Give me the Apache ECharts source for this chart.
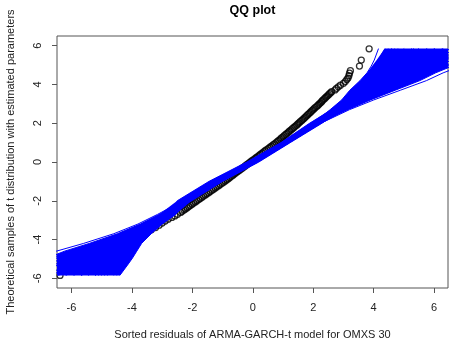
<!DOCTYPE html>
<html>
<head>
<meta charset="utf-8">
<script src="https://cdn.jsdelivr.net/npm/echarts@6/dist/echarts.min.js"></script>
<style>
  html, body { margin: 0; padding: 0; background: #fff; }
  #chart { width: 449px; height: 339px; }
</style>
</head>
<body>
<div id="chart"></div>
<script>
// Axis ticks (same on both axes)
const tickValues = [-6, -4, -2, 0, 2, 4, 6];

// Sorted ARMA-GARCH-t residuals and the matching theoretical t quantiles
const residuals = [
  -6.38, -5.60, -5.10, -4.75, -4.50, -4.25, -4.02, -3.85, -3.68, -3.52,
  -3.36, -3.22, -3.10, -3.00, -2.90, -2.80, -2.68, -2.58, -2.49,
  -2.39, -2.34, -2.28, -2.23, -2.17, -2.12, -2.07, -2.01, -1.96, -1.90,
  -1.85, -1.79, -1.74, -1.68, -1.63, -1.57, -1.52, -1.46, -1.41, -1.35,
  -1.30, -1.24, -1.19, -1.13, -1.08, -1.02, -0.97, -0.91, -0.86, -0.81,
  -0.76, -0.71, -0.66, -0.61, -0.56, -0.51, -0.45, -0.40, -0.35, -0.30,
  -0.25, -0.20, -0.15, -0.10, -0.05, 0.00, 0.06, 0.11, 0.16, 0.21,
  0.26, 0.31, 0.36, 0.41, 0.46, 0.52, 0.57, 0.62, 0.67, 0.72,
  0.77, 0.82, 0.86, 0.91, 0.95, 1.00, 1.04, 1.09, 1.13, 1.18,
  1.22, 1.27, 1.31, 1.36, 1.40, 1.45, 1.49, 1.53, 1.57, 1.62,
  1.66, 1.70, 1.74, 1.78, 1.82, 1.86, 1.90, 1.94, 1.98, 2.02,
  2.06, 2.11, 2.15, 2.19, 2.23, 2.27, 2.30, 2.34, 2.38, 2.42,
  2.46, 2.50, 2.54, 2.58, 2.61,
  2.72, 2.77, 2.83, 2.90, 3.00, 3.06, 3.11, 3.15, 3.18, 3.20,
  3.23, 3.53, 3.59, 3.85
];
const tQuantiles = [
  -5.85, -5.30, -4.95, -4.70, -4.50, -4.30, -4.10, -3.95, -3.80, -3.65,
  -3.50, -3.38, -3.26, -3.15, -3.05, -2.95, -2.86, -2.78, -2.70,
  -2.60, -2.54, -2.48, -2.42, -2.36, -2.30, -2.24, -2.18, -2.12, -2.06,
  -2.00, -1.94, -1.88, -1.82, -1.76, -1.70, -1.64, -1.58, -1.52, -1.46,
  -1.40, -1.34, -1.28, -1.22, -1.16, -1.10, -1.04, -0.98, -0.92, -0.86,
  -0.80, -0.74, -0.68, -0.62, -0.56, -0.50, -0.44, -0.38, -0.32, -0.26,
  -0.20, -0.14, -0.08, -0.02, 0.04, 0.10, 0.16, 0.22, 0.28, 0.34,
  0.40, 0.46, 0.52, 0.58, 0.64, 0.70, 0.76, 0.82, 0.88, 0.94,
  1.00, 1.06, 1.12, 1.18, 1.24, 1.30, 1.36, 1.42, 1.48, 1.54,
  1.60, 1.66, 1.72, 1.78, 1.84, 1.90, 1.96, 2.02, 2.08, 2.14,
  2.20, 2.26, 2.32, 2.38, 2.44, 2.50, 2.56, 2.62, 2.68, 2.74,
  2.80, 2.86, 2.92, 2.98, 3.04, 3.10, 3.16, 3.22, 3.28, 3.34,
  3.40, 3.46, 3.52, 3.58, 3.63,
  3.72, 3.80, 3.88, 3.96, 4.06, 4.15, 4.25, 4.33, 4.45, 4.58,
  4.71, 4.95, 5.26, 5.84
];

// Quantile levels at which every simulated t sample is traced
const simQuantiles = [
  -5.85, -5.26, -4.95, -4.6, -4.2, -3.7, -3.2, -2.7, -2.0, -1.0, 0,
  1.0, 2.0, 2.7, 3.2, 3.7, 4.2, 4.6, 4.95, 5.26, 5.85
];

// Sorted samples drawn from the fitted t distribution, one per simulation
const sim01 = [-4.40,-4.12,-3.98,-3.84,-3.68,-3.36,-3.00,-2.55,-2.26,-1.23,0.00,1.09,2.09,2.88,3.47,4.05,4.65,5.04,5.41,5.81,6.83];
const sim02 = [-4.81,-4.41,-4.23,-4.05,-3.83,-3.46,-3.06,-2.60,-2.36,-1.32,-0.08,1.02,2.00,2.56,2.94,3.21,3.55,3.78,3.92,4.02,4.16];
const sim03 = [-5.22,-4.71,-4.48,-4.27,-3.99,-3.56,-3.13,-2.65,-2.21,-1.18,0.04,1.12,2.13,2.72,3.21,3.63,4.10,4.41,4.67,4.92,5.50];
const sim04 = [-5.68,-5.04,-4.76,-4.51,-4.16,-3.67,-3.20,-2.70,-2.31,-1.27,-0.04,1.05,2.04,2.61,3.03,3.34,3.73,3.98,4.16,4.31,4.59];
const sim05 = [-6.19,-5.41,-5.07,-4.77,-4.35,-3.79,-3.28,-2.76,-2.16,-1.14,0.08,1.15,2.17,3.07,3.79,4.55,5.31,5.80,6.30,6.88,8.43];
const sim06 = [-6.95,-5.96,-5.54,-5.17,-4.64,-3.98,-3.40,-2.85,-2.40,-1.36,-0.12,0.99,1.96,2.66,3.11,3.48,3.90,4.18,4.40,4.59,5.01];
const sim07 = [-7.72,-6.51,-6.01,-5.57,-4.93,-4.17,-3.52,-2.94,-2.12,-1.09,0.12,1.18,2.21,2.78,3.31,3.80,4.32,4.66,4.96,5.27,6.03];
const sim08 = [-8.48,-7.06,-6.48,-5.97,-5.22,-4.35,-3.64,-3.03,-2.26,-1.23,0.00,1.09,2.09,2.64,3.07,3.41,3.81,4.08,4.28,4.45,4.80];
const sim09 = [-9.50,-7.80,-7.10,-6.50,-5.60,-4.60,-3.80,-3.15,-2.31,-1.27,-0.04,1.05,2.04,2.75,3.26,3.72,4.21,4.54,4.82,5.10,5.77];
const sim10 = [-4.60,-4.26,-4.10,-3.94,-3.75,-3.41,-3.03,-2.57,-2.45,-1.41,-0.16,0.96,1.92,2.98,3.63,4.30,4.98,5.42,5.86,6.35,7.63];
const sim11 = [-5.45,-4.87,-4.62,-4.39,-4.07,-3.61,-3.16,-2.67,-2.07,-1.05,0.16,1.21,2.25,3.20,4.00,4.88,5.75,6.30,6.90,7.60,9.50];
const sim12 = [-5.01,-4.56,-4.35,-4.16,-3.91,-3.51,-3.10,-2.62,-2.19,-1.16,0.06,1.13,2.15,2.81,3.36,3.88,4.43,4.78,5.11,5.45,6.30];
const sim13 = [-6.70,-5.78,-5.39,-5.04,-4.55,-3.92,-3.36,-2.82,-2.36,-1.32,-0.08,1.02,2.00,2.91,3.52,4.13,4.76,5.17,5.56,5.99,7.10];
const sim14 = [-4.50,-4.19,-4.04,-3.89,-3.72,-3.38,-3.02,-2.56,-2.16,-1.14,0.08,1.15,2.17,2.60,3.00,3.31,3.68,3.93,4.10,4.23,4.48];
const sim15 = [-5.93,-5.22,-4.92,-4.64,-4.26,-3.73,-3.24,-2.73,-2.26,-1.23,0.00,1.09,2.09,2.59,2.98,3.28,3.64,3.88,4.04,4.16,4.37];
const sim16 = [-4.91,-4.49,-4.29,-4.11,-3.87,-3.48,-3.08,-2.61,-2.40,-1.36,-0.12,0.99,1.96,3.11,3.84,4.63,5.42,5.93,6.45,7.06,8.70];
const sim17 = [-7.46,-6.33,-5.85,-5.43,-4.83,-4.11,-3.48,-2.91,-2.07,-1.05,0.16,1.21,2.25,2.61,3.03,3.34,3.73,3.98,4.16,4.31,4.59];
const sim18 = [-5.22,-4.71,-4.48,-4.27,-3.99,-3.56,-3.13,-2.65,-2.50,-1.45,-0.20,0.93,1.88,2.62,3.05,3.38,3.77,4.03,4.22,4.38,4.69];
const sim19 = [-8.74,-7.25,-6.64,-6.10,-5.32,-4.42,-3.68,-3.06,-2.02,-1.00,0.20,1.24,2.29,2.94,3.58,4.21,4.87,5.29,5.71,6.17,7.36];
const sim20 = [-5.68,-5.04,-4.76,-4.51,-4.16,-3.67,-3.20,-2.70,-2.28,-1.25,-0.02,1.07,2.06,2.70,3.17,3.58,4.03,4.33,4.58,4.81,5.33];
const sim21 = [-6.44,-5.59,-5.23,-4.90,-4.45,-3.86,-3.32,-2.79,-2.24,-1.20,0.02,1.10,2.11,3.14,3.89,4.71,5.53,6.05,6.60,7.24,8.97];
const sim22 = [-8.99,-7.43,-6.79,-6.23,-5.41,-4.48,-3.72,-3.09,-2.21,-1.18,0.04,1.12,2.13,2.85,3.42,3.96,4.54,4.91,5.26,5.63,6.56];
const sim23 = [-5.11,-4.64,-4.42,-4.21,-3.95,-3.53,-3.11,-2.63,-2.33,-1.29,-0.06,1.04,2.02,3.02,3.70,4.41,5.13,5.59,6.07,6.60,8.01];
const sim24 = [-8.07,-6.77,-6.23,-5.76,-5.06,-4.25,-3.58,-2.98,-2.19,-1.16,0.06,1.13,2.15,2.69,3.16,3.56,4.00,4.30,4.54,4.76,5.26];

// Region where the bulk of the simulated samples overlap (left / right bound per quantile)
const coreLeft  = [-8.99,-7.43,-6.79,-6.23,-5.41,-4.48,-3.72,-3.09,-2.50,-1.45,-0.20,0.93,1.88,2.56,2.94,3.21,3.55,3.78,3.95,4.10,4.37];
const coreRight = [-4.40,-4.12,-3.98,-3.84,-3.68,-3.36,-3.00,-2.55,-2.02,-1.00,0.20,1.24,2.29,3.14,3.89,4.71,5.53,6.05,6.60,7.24,8.97];

const simSamples = [sim01, sim02, sim03, sim04, sim05, sim06, sim07, sim08, sim09, sim10, sim11, sim12,
                    sim13, sim14, sim15, sim16, sim17, sim18, sim19, sim20, sim21, sim22, sim23, sim24];

const FONT = '"Liberation Sans", Arial, Helvetica, sans-serif';
const BLUE = '#0000ff';
const FRAME = '#555555';

const chart = echarts.init(document.getElementById('chart'), null, { renderer: 'canvas' });

const series = [];

// Observed residuals as open circles
series.push({
  type: 'scatter',
  data: residuals.map((x, i) => [x, tQuantiles[i]]),
  symbol: 'circle',
  symbolSize: 6,
  itemStyle: { color: 'rgba(0,0,0,0)', borderColor: '#000', borderWidth: 1.3 },
  z: 2,
  silent: true
});

// Overlap of the simulated samples, filled
series.push({
  type: 'custom',
  clip: true,
  z: 3,
  silent: true,
  data: [[0, 0]],
  renderItem: function (params, api) {
    const pts = [];
    for (let i = 0; i < simQuantiles.length; i++) pts.push(api.coord([coreLeft[i], simQuantiles[i]]));
    for (let i = simQuantiles.length - 1; i >= 0; i--) pts.push(api.coord([coreRight[i], simQuantiles[i]]));
    const cs = params.coordSys;
    return {
      type: 'polygon',
      shape: { points: pts },
      style: { fill: BLUE },
      clipPath: { type: 'rect', shape: { x: cs.x, y: cs.y, width: cs.width, height: cs.height } }
    };
  }
});

// Each simulated sample as its own line
simSamples.forEach(function (s) {
  series.push({
    type: 'line',
    data: s.map((x, i) => [x, simQuantiles[i]]),
    showSymbol: false,
    symbol: 'none',
    clip: true,
    lineStyle: { color: BLUE, width: 1 },
    z: 4,
    silent: true
  });
});

chart.setOption({
  animation: false,
  backgroundColor: '#fff',
  grid: {
    left: 57, right: 1, top: 36, bottom: 51,
    show: true, borderColor: FRAME, borderWidth: 1, backgroundColor: 'transparent'
  },
  xAxis: {
    type: 'value',
    position: 'bottom',
    min: -6.48, max: 6.46,
    axisLine: { show: false, onZero: false },
    splitLine: { show: false },
    axisTick: { show: true, length: 5, customValues: tickValues, lineStyle: { color: FRAME } },
    axisLabel: { customValues: tickValues, margin: 14, fontSize: 11, color: '#222', fontFamily: FONT }
  },
  yAxis: {
    type: 'value',
    position: 'left',
    min: -6.5, max: 6.5,
    axisLine: { show: false, onZero: false },
    splitLine: { show: false },
    axisTick: { show: true, length: 5, customValues: tickValues, lineStyle: { color: FRAME } },
    axisLabel: { customValues: tickValues, rotate: 90, margin: 14, fontSize: 11, color: '#222', fontFamily: FONT }
  },
  graphic: [
    { type: 'text', x: 252.5, y: 10.5, style: { text: 'QQ plot', font: 'bold 12.5px ' + FONT, fill: '#000', align: 'center', verticalAlign: 'middle' } },
    { type: 'text', x: 252.5, y: 334.5, style: { text: 'Sorted residuals of ARMA-GARCH-t model for OMXS 30', font: '11px ' + FONT, fill: '#222', align: 'center', verticalAlign: 'middle' } },
    { type: 'text', x: 10.5, y: 162, rotation: Math.PI / 2, style: { text: 'Theoretical samples of t distribution with estimated parameters', font: '11px ' + FONT, fill: '#222', align: 'center', verticalAlign: 'middle' } }
  ],
  series: series
});
</script>
</body>
</html>
